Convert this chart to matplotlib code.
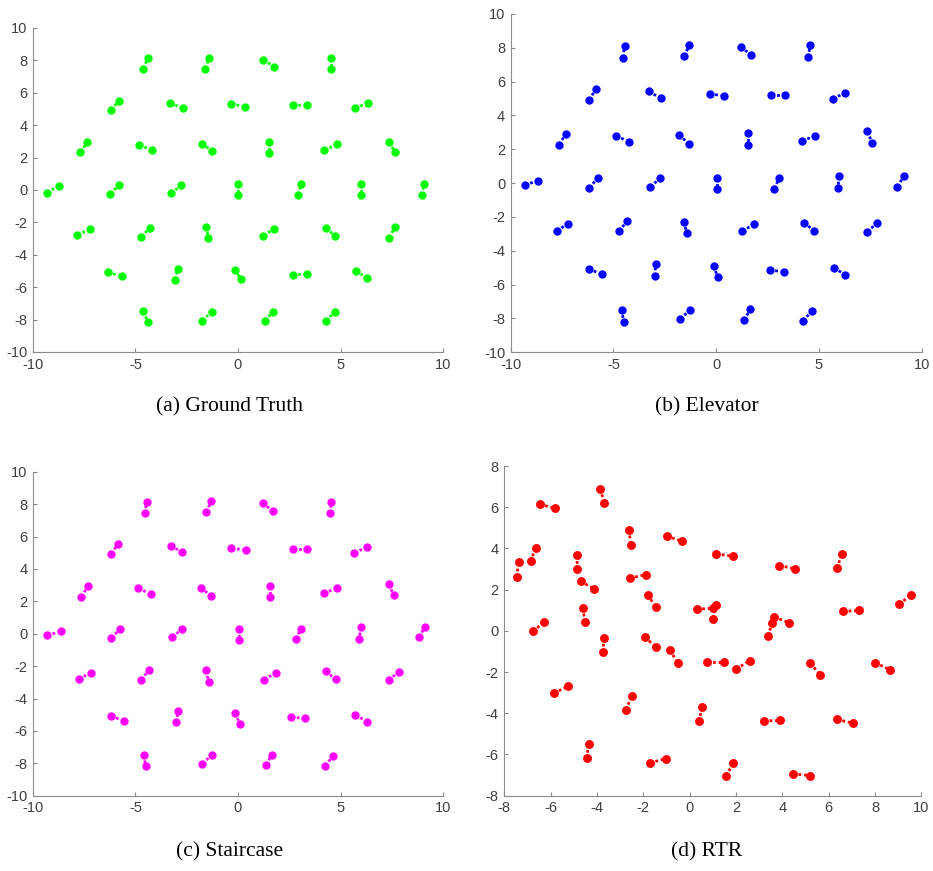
import matplotlib
matplotlib.use('Agg')
import matplotlib.pyplot as plt
import numpy as np

plt.rcParams['axes.unicode_minus'] = False

# (a) Ground Truth - each dumbbell is (x1, y1) -> (x2, y2)
gt_x1 = [-4.63, -1.61, 1.24, 4.52, -6.21, -3.32, -0.34, 2.67, 5.71,
         -7.69, -4.83, -1.77, 1.51, 4.21, 7.37,
         -9.32, -6.23, -3.27, 0.00, 2.93, 6.02, 8.96,
         -7.84, -4.72, -1.54, 1.24, 4.29, 7.37,
         -6.36, -3.09, -0.16, 2.67, 5.76,
         -4.63, -1.76, 1.32, 4.29]
gt_y1 = [7.49, 7.49, 8.05, 8.15, 4.95, 5.38, 5.32, 5.22, 5.05,
         2.32, 2.77, 2.87, 2.98, 2.44, 2.96,
         -0.16, -0.25, -0.21, 0.39, -0.31, 0.39, -0.31,
         -2.77, -2.90, -2.26, -2.83, -2.34, -2.94,
         -5.09, -5.54, -4.91, -5.22, -4.97,
         -7.49, -8.07, -8.09, -8.09]
gt_x2 = [-4.39, -1.40, 1.77, 4.52, -5.80, -2.70, 0.36, 3.37, 6.33,
         -7.35, -4.20, -1.25, 1.51, 4.81, 7.67,
         -8.73, -5.80, -2.76, 0.00, 3.09, 6.02, 9.09,
         -7.22, -4.29, -1.45, 1.76, 4.75, 7.67,
         -5.67, -2.93, 0.16, 3.37, 6.28,
         -4.39, -1.28, 1.69, 4.72]
gt_y2 = [8.15, 8.15, 7.60, 7.47, 5.50, 5.05, 5.15, 5.24, 5.38,
         2.94, 2.48, 2.40, 2.28, 2.81, 2.32,
         0.25, 0.33, 0.29, -0.31, 0.39, -0.31, 0.39,
         -2.42, -2.32, -2.96, -2.38, -2.87, -2.28,
         -5.30, -4.87, -5.52, -5.20, -5.44,
         -8.13, -7.54, -7.52, -7.52]

# (b) Elevator
elev_x1 = [-4.54, -1.56, 1.20, 4.49, -6.18, -3.28, -0.32, 2.66, 5.68,
           -7.64, -4.87, -1.82, 1.54, 4.18, 7.36,
           -9.31, -6.18, -3.21, 0.03, 2.82, 5.99, 8.82,
           -7.77, -4.74, -1.57, 1.27, 4.27, 7.35,
           -6.21, -3.00, -0.13, 2.60, 5.73,
           -4.59, -1.75, 1.36, 4.23]
elev_y1 = [7.42, 7.50, 8.07, 7.44, 4.91, 5.42, 5.27, 5.21, 4.99,
           2.27, 2.80, 2.84, 2.96, 2.50, 3.06,
           -0.10, -0.28, -0.22, 0.32, -0.34, 0.41, -0.22,
           -2.80, -2.84, -2.27, -2.84, -2.33, -2.88,
           -5.07, -5.48, -4.89, -5.15, -5.01,
           -7.48, -8.03, -8.11, -8.15]
elev_x2 = [-4.46, -1.30, 1.70, 4.56, -5.87, -2.71, 0.39, 3.37, 6.29,
           -7.33, -4.25, -1.30, 1.54, 4.82, 7.59,
           -8.65, -5.76, -2.73, 0.03, 3.08, 5.92, 9.12,
           -7.19, -4.33, -1.43, 1.83, 4.77, 7.83,
           -5.58, -2.94, 0.08, 3.29, 6.29,
           -4.51, -1.28, 1.65, 4.64]
elev_y2 = [8.13, 8.17, 7.57, 8.15, 5.54, 5.03, 5.17, 5.21, 5.35,
           2.92, 2.45, 2.33, 2.25, 2.80, 2.37,
           0.14, 0.30, 0.28, -0.37, 0.32, -0.30, 0.41,
           -2.41, -2.25, -2.96, -2.43, -2.82, -2.35,
           -5.38, -4.77, -5.56, -5.23, -5.42,
           -8.19, -7.50, -7.46, -7.57]

# (c) Staircase - reads the same as the elevator result
stair_x1 = list(elev_x1)
stair_y1 = list(elev_y1)
stair_x2 = list(elev_x2)
stair_y2 = list(elev_y2)

# (d) RTR
rtr_x1 = [-7.47, -6.86, -6.47, -3.86, -4.86, -4.71, -6.76, -4.62, -3.68,
          -2.63, -2.59, -0.99, -1.80, -1.94, -0.85, 1.15, 0.30, 1.12,
          6.36, 3.87, 3.38, 3.65, 6.62, 9.04,
          0.76, 2.01, 5.21, 8.01, -5.87, -2.75, 0.42, 3.21, 6.36,
          -4.45, -1.71, 1.58, 4.46]
rtr_y1 = [2.62, 3.37, 6.15, 6.88, 3.66, 2.41, -0.03, 1.10, -0.36,
          4.89, 2.56, 4.61, 1.76, -0.31, -0.94, 3.74, 1.05, 1.26,
          3.04, 3.17, -0.24, 0.68, 0.94, 1.29,
          -1.50, -1.86, -1.57, -1.54, -3.02, -3.83, -4.39, -4.37, -4.30,
          -6.18, -6.41, -7.04, -6.94]
rtr_x2 = [-7.38, -6.65, -5.80, -3.68, -4.85, -4.13, -6.27, -4.50, -3.76,
          -2.53, -1.90, -0.35, -1.47, -1.44, -0.52, 1.86, 1.02, 1.02,
          6.56, 4.56, 3.57, 4.27, 7.32, 9.57,
          1.47, 2.59, 5.63, 8.63, -5.25, -2.50, 0.52, 3.91, 7.04,
          -4.35, -1.04, 1.88, 5.18]
rtr_y2 = [3.32, 4.03, 5.94, 6.21, 2.98, 2.04, 0.45, 0.42, -1.04,
          4.19, 2.72, 4.35, 1.15, -0.79, -1.55, 3.62, 1.10, 0.57,
          3.71, 3.01, 0.40, 0.40, 0.99, 1.75,
          -1.50, -1.44, -2.12, -1.88, -2.70, -3.17, -3.69, -4.35, -4.48,
          -5.49, -6.20, -6.41, -7.02]

titles = ['(a) Ground Truth', '(b) Elevator', '(c) Staircase', '(d) RTR']
colors = ['#00ff00', '#0000ff', '#ff00ff', '#ff0000']
msizes = [6.0, 6.0, 6.0, 6.4]

fig = plt.figure(figsize=(9.33, 8.71), dpi=100)

rects = [
    [33 / 933, 1 - 352 / 871, 410 / 933, 324 / 871],
    [510.7 / 933, 1 - 352.3 / 871, 411 / 933, 338.3 / 871],
    [33 / 933, 1 - 795.7 / 871, 410 / 933, 324 / 871],
    [504.3 / 933, 1 - 795.7 / 871, 417 / 933, 329.7 / 871],
]
title_pos = [(230, 407), (707, 407), (230, 852), (707, 852)]
limits = [((-10, 10), (-10, 10)), ((-10, 10), (-10, 10)),
          ((-10, 10), (-10, 10)), ((-8, 10), (-8, 8))]
xticks = [np.arange(-10, 11, 5)] * 3 + [np.arange(-8, 11, 2)]
yticks = [np.arange(-10, 11, 2)] * 3 + [np.arange(-8, 9, 2)]

data = [
    (gt_x1, gt_y1, gt_x2, gt_y2),
    (elev_x1, elev_y1, elev_x2, elev_y2),
    (stair_x1, stair_y1, stair_x2, stair_y2),
    (rtr_x1, rtr_y1, rtr_x2, rtr_y2),
]

for i in range(4):
    ax = fig.add_axes(rects[i])
    x1, y1, x2, y2 = [np.array(v) for v in data[i]]
    xs = np.vstack([x1, x2])
    ys = np.vstack([y1, y2])
    ax.plot(xs, ys, color=colors[i], linestyle=(0, (1, 1)), linewidth=2.0,
            marker='o', markersize=msizes[i], markeredgewidth=0, clip_on=False)
    ax.set_xlim(*limits[i][0])
    ax.set_ylim(*limits[i][1])
    ax.set_xticks(xticks[i])
    ax.set_yticks(yticks[i])
    for s in ['top', 'right']:
        ax.spines[s].set_visible(False)
    for s in ['left', 'bottom']:
        ax.spines[s].set_color('#8c8c8c')
        ax.spines[s].set_linewidth(0.8)
    ax.tick_params(direction='in', length=3, width=0.8, color='#8c8c8c',
                   labelsize=10.5, labelcolor='#404040', pad=4)
    for lab in ax.get_xticklabels() + ax.get_yticklabels():
        lab.set_fontfamily('Liberation Sans')
    fig.text(title_pos[i][0] / 933, 1 - title_pos[i][1] / 871, titles[i],
             ha='center', va='center', fontsize=15.5,
             family='Liberation Serif', color='black')

fig.savefig('out.png', dpi=100)
